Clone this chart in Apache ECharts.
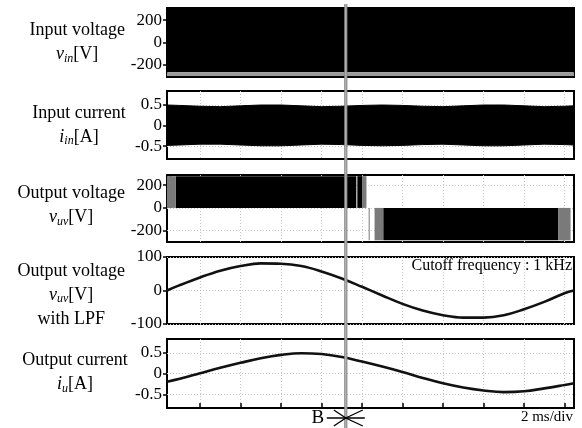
<!DOCTYPE html>
<html>
<head>
<meta charset="utf-8">
<script src="https://cdn.jsdelivr.net/npm/echarts@6/dist/echarts.min.js"></script>
<style>
  html, body { margin: 0; padding: 0; background: #fff; }
  #chart { width: 582px; height: 428px; }
</style>
</head>
<body>
<div id="chart"></div>
<script>
// Time base in ms, 2 ms per division
const timeRange = [-1.63, 18.47];
const timeTicks = [0, 2, 4, 6, 8, 10, 12, 14, 16, 18];
const cursorTime = 7.2;

// Input voltage: switching band, [tStart, tEnd, low, high]
const vinDense = [[-1.63, 18.47, -268, 310]];
const vinSparse = [[-1.63, 18.47, -300, -268]];
const vinTicks = [-200, 0, 200];

// Input current: envelope of the switched waveform
const envTime = [-1.63, -1, 0, 1, 2, 3, 4, 5, 6, 7, 8, 9, 10, 11, 12, 13, 14, 15, 16, 17, 18, 18.47];
const iinUpper = [0.50, 0.49, 0.47, 0.46, 0.48, 0.50, 0.50, 0.48, 0.46, 0.47, 0.49, 0.50, 0.49, 0.47, 0.46, 0.48, 0.50, 0.50, 0.48, 0.46, 0.47, 0.48];
const iinLower = [-0.48, -0.47, -0.45, -0.45, -0.47, -0.49, -0.49, -0.47, -0.45, -0.46, -0.48, -0.49, -0.48, -0.46, -0.45, -0.47, -0.49, -0.49, -0.47, -0.45, -0.46, -0.47];
const iinTicks = [-0.5, 0, 0.5];

// Output voltage (PWM): [tStart, tEnd, low, high]
const vuvDense = [
  [-1.50, -1.42, 0, 280],
  [-1.19, 7.72, 0, 280],
  [7.77, 8.0, 0, 280],
  [9.05, 17.7, -285, 0],
  [17.92, 18.0, -285, 0]
];
const vuvSparse = [
  [-1.63, -1.19, 0, 280],
  [8.0, 8.22, 0, 280],
  [8.33, 8.38, -285, 0],
  [8.62, 9.05, -285, 0],
  [17.7, 18.3, -285, 0]
];
const vuvTicks = [-200, 0, 200];

// Filtered output voltage and output current
const sampleTime = [-1.63, -1, 0, 1, 2, 3, 4, 5, 6, 7, 8, 9, 10, 11, 12, 13, 14, 15, 16, 17, 18, 18.47];
const vuvLpf = [0, 16, 39, 59, 73, 81, 80, 73, 57, 36, 11, -15, -40, -60, -74, -81, -81, -74, -56, -34, -8, 0];
const lpfTicks = [-100, 0, 100];
const iuValues = [-0.19, -0.12, 0.01, 0.14, 0.26, 0.37, 0.45, 0.49, 0.47, 0.40, 0.29, 0.17, 0.04, -0.10, -0.23, -0.33, -0.40, -0.44, -0.42, -0.35, -0.27, -0.23];
const iuTicks = [-0.5, 0, 0.5];

const SERIF = "'Liberation Serif', 'Times New Roman', serif";

const panels = [
  { top: 8,   height: 69, min: -310, max: 310,   ticks: vinTicks, gap: 89, pad: [0, 0, 0, 0],
    name: 'Input voltage\n{i|v}{s|in}[V]' },
  { top: 91,  height: 68, min: -0.81, max: 0.84, ticks: iinTicks, gap: 88, pad: [0, 0, 0, 0],
    name: 'Input current\n{i|i}{s|in}[A]' },
  { top: 175, height: 67, min: -300, max: 290,   ticks: vuvTicks, gap: 93, pad: [0, 0, 6, 0],
    name: 'Output voltage\n{i|v}{s|uv}[V]' },
  { top: 257, height: 67, min: -100, max: 100,   ticks: lpfTicks, gap: 93, pad: [9, 0, 0, 0],
    name: 'Output voltage\n{i|v}{s|uv}[V]\nwith LPF' },
  { top: 339, height: 69, min: -0.82, max: 0.83, ticks: iuTicks, gap: 92, pad: [0, 0, 2, 0],
    name: 'Output current\n{i|i}{s|u}[A]' }
];

const gridLine = { show: true, lineStyle: { color: '#c4c4c4', type: [1, 2], width: 1 } };

const grids = panels.map(p => ({
  left: 167, right: 8, top: p.top, height: p.height,
  show: true, borderColor: '#000', borderWidth: 2, backgroundColor: 'rgba(0,0,0,0)'
}));

const xAxes = panels.map((p, i) => ({
  type: 'value', gridIndex: i, min: timeRange[0], max: timeRange[1],
  axisLine: { show: false, onZero: false },
  axisLabel: { show: false },
  axisTick: { show: i === 4, inside: true, length: 5, customValues: timeTicks,
              lineStyle: { color: '#000', width: 1.5 } },
  splitLine: gridLine
}));

const yAxes = panels.map((p, i) => ({
  type: 'value', gridIndex: i, min: p.min, max: p.max,
  axisLine: { show: false, onZero: false },
  axisTick: { show: true, length: 4, customValues: p.ticks,
              lineStyle: { color: '#000', width: 1.5 } },
  axisLabel: { customValues: p.ticks, color: '#000', fontFamily: SERIF, fontSize: 17, margin: 5 },
  splitLine: gridLine,
  name: p.name, nameLocation: 'middle', nameRotate: 0, nameGap: p.gap,
  nameTextStyle: {
    color: '#000', fontFamily: SERIF, fontSize: 18, align: 'center', verticalAlign: 'middle',
    lineHeight: 24, padding: p.pad,
    rich: {
      i: { fontFamily: SERIF, fontSize: 18, fontStyle: 'italic', lineHeight: 24, color: '#000' },
      s: { fontFamily: SERIF, fontSize: 12, fontStyle: 'italic', lineHeight: 24,
           verticalAlign: 'bottom', padding: [0, 0, 2, 0], color: '#000' }
    }
  }
}));

// Filled rectangles spanning [tStart, tEnd] x [low, high]
function blockSeries(data, color, gi) {
  return {
    type: 'custom', xAxisIndex: gi, yAxisIndex: gi, data: data, silent: true, z: 3,
    encode: { x: [0, 1], y: [2, 3] },
    renderItem(params, api) {
      const a = api.coord([api.value(0), api.value(3)]);
      const b = api.coord([api.value(1), api.value(2)]);
      const cs = params.coordSys;
      const shape = echarts.graphic.clipRectByRect(
        { x: a[0], y: a[1], width: b[0] - a[0], height: b[1] - a[1] },
        { x: cs.x, y: cs.y, width: cs.width, height: cs.height });
      return shape && { type: 'rect', shape: shape, style: { fill: color } };
    }
  };
}

// Filled envelope between a lower and an upper trace, drawn as one polygon
function bandSeries(times, lower, upper, color, gi) {
  return {
    type: 'custom', xAxisIndex: gi, yAxisIndex: gi, silent: true, z: 3,
    data: times.map((t, k) => [t, lower[k], upper[k]]),
    encode: { x: 0, y: [1, 2] },
    renderItem(params, api) {
      if (params.dataIndex !== 0) return null;
      const top = times.map((t, k) => api.coord([t, upper[k]]));
      const bottom = times.map((t, k) => api.coord([t, lower[k]])).reverse();
      return { type: 'polygon', shape: { points: top.concat(bottom), smooth: 0 },
               style: { fill: color, stroke: color, lineWidth: 1 } };
    }
  };
}

const pairs = (xs, ys) => xs.map((x, k) => [x, ys[k]]);

const series = [
  blockSeries(vinDense, '#000', 0),
  blockSeries(vinSparse, '#9a9a9a', 0),
  bandSeries(envTime, iinLower, iinUpper, '#000', 1),
  blockSeries(vuvDense, '#000', 2),
  blockSeries(vuvSparse, '#7a7a7a', 2),
  {
    type: 'line', xAxisIndex: 3, yAxisIndex: 3, symbol: 'none', smooth: 0.4, silent: true,
    data: pairs(sampleTime, vuvLpf), lineStyle: { color: '#111', width: 2.6 }
  },
  {
    type: 'line', xAxisIndex: 4, yAxisIndex: 4, symbol: 'none', smooth: 0.4, silent: true,
    data: pairs(sampleTime, iuValues), lineStyle: { color: '#111', width: 2.6 }
  }
];

const chart = echarts.init(document.getElementById('chart'), null, { renderer: 'canvas' });
chart.setOption({
  animation: false,
  backgroundColor: '#fff',
  grid: grids, xAxis: xAxes, yAxis: yAxes, series: series
});

// Trigger cursor B across all panels
const cx = chart.convertToPixel({ xAxisIndex: 4 }, cursorTime);
const by = 418;
chart.setOption({
  graphic: [
    { type: 'text', right: 10, top: 258, z: 10,
      style: { text: 'Cutoff frequency : 1 kHz', fill: '#000', font: '16px ' + SERIF } },
    { type: 'text', right: 9, top: 410, z: 10,
      style: { text: '2 ms/div', fill: '#000', font: '15px ' + SERIF } },
    { type: 'line', z: 20, shape: { x1: cx, y1: 4, x2: cx, y2: 428 },
      style: { stroke: '#858585', lineWidth: 3.2 } },
    { type: 'line', z: 21, shape: { x1: cx, y1: 4, x2: cx, y2: 428 },
      style: { stroke: '#b8b8b8', lineWidth: 1.2 } },
    { type: 'text', z: 22, x: cx - 28, y: by,
      style: { text: 'B', fill: '#000', font: '19px ' + SERIF, align: 'center', verticalAlign: 'middle' } },
    { type: 'polyline', z: 22, shape: { points: [[cx - 19, by], [cx + 19, by]] },
      style: { stroke: '#000', lineWidth: 1.3, fill: null } },
    { type: 'polyline', z: 22, shape: { points: [[cx - 12, by - 8], [cx, by], [cx - 12, by + 8]] },
      style: { stroke: '#000', lineWidth: 1.3, fill: null } },
    { type: 'polyline', z: 22, shape: { points: [[cx + 17, by - 8], [cx, by], [cx + 17, by + 8]] },
      style: { stroke: '#000', lineWidth: 1.3, fill: null } }
  ]
});
</script>
</body>
</html>
